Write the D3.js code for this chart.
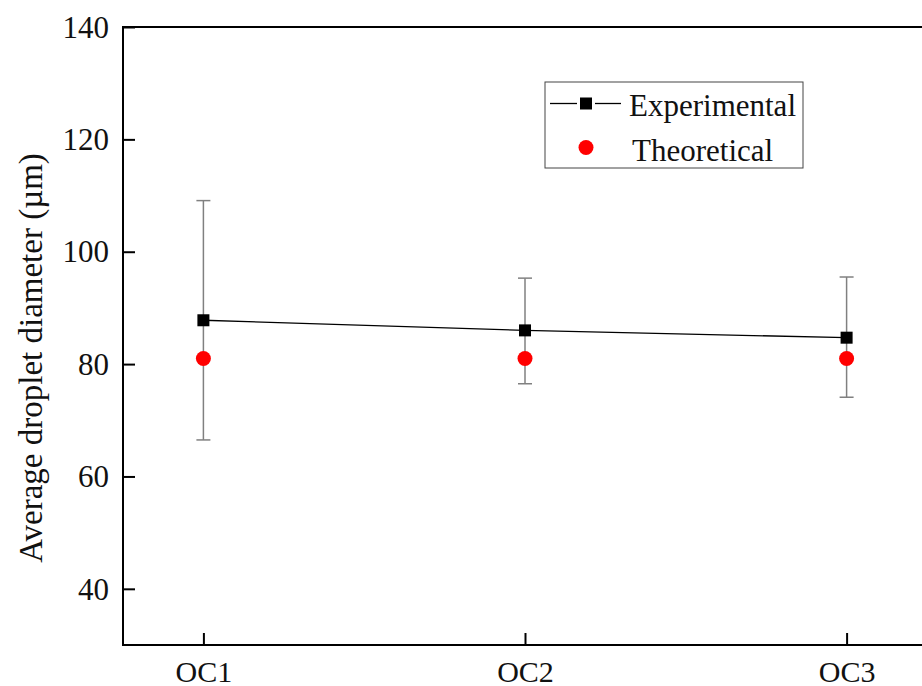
<!DOCTYPE html>
<html>
<head>
<meta charset="utf-8">
<script src="https://cdn.jsdelivr.net/npm/d3@7"></script>
<style>
  body { margin: 0; background: #fff; }
  svg { display: block; }
  text { font-family: "Liberation Serif", "Times New Roman", serif; }
</style>
</head>
<body>
<div id="chart"></div>
<script>
var categories = ["OC1", "OC2", "OC3"];
var experimental = [87.8, 86.0, 84.7];
var errUpper = [109.1, 95.3, 95.5];
var errLower = [66.5, 76.5, 74.1];
var theoretical = [81, 81, 81];
var yTicks = [40, 60, 80, 100, 120, 140];

var width = 922, height = 686;
var plotLeft = 123, plotTop = 27, plotBottom = 645;

var svg = d3.select("#chart").append("svg")
  .attr("width", width)
  .attr("height", height);

// x: categories spaced evenly, axis runs beyond the right edge
var xScale = d3.scaleLinear().domain([0.75, 3.25]).range([plotLeft, 927]);
var yScale = d3.scaleLinear().domain([30, 140]).range([plotBottom, plotTop]);

var pts = categories.map(function (c, i) {
  return {cat: c, idx: i + 1, exp: experimental[i], hi: errUpper[i], lo: errLower[i], th: theoretical[i]};
});

// error bars
var eb = svg.append("g").attr("stroke", "#808080").attr("stroke-width", 1.5);
eb.selectAll("line.v").data(pts).enter().append("line")
  .attr("x1", function (d) { return xScale(d.idx); })
  .attr("x2", function (d) { return xScale(d.idx); })
  .attr("y1", function (d) { return yScale(d.hi); })
  .attr("y2", function (d) { return yScale(d.lo); });
["hi", "lo"].forEach(function (k) {
  eb.selectAll("line.c" + k).data(pts).enter().append("line")
    .attr("x1", function (d) { return xScale(d.idx) - 7; })
    .attr("x2", function (d) { return xScale(d.idx) + 7; })
    .attr("y1", function (d) { return yScale(d[k]); })
    .attr("y2", function (d) { return yScale(d[k]); });
});

// experimental line
var line = d3.line()
  .x(function (d) { return xScale(d.idx); })
  .y(function (d) { return yScale(d.exp); });
svg.append("path").datum(pts)
  .attr("d", line)
  .attr("fill", "none")
  .attr("stroke", "#000")
  .attr("stroke-width", 1.3);

// theoretical points
svg.selectAll("circle.th").data(pts).enter().append("circle")
  .attr("cx", function (d) { return xScale(d.idx); })
  .attr("cy", function (d) { return yScale(d.th); })
  .attr("r", 7.5)
  .attr("fill", "#ff0000");

// experimental squares (white halo gives the small gap in the line)
svg.selectAll("rect.exp").data(pts).enter().append("rect")
  .attr("x", function (d) { return xScale(d.idx) - 6; })
  .attr("y", function (d) { return yScale(d.exp) - 6; })
  .attr("width", 12)
  .attr("height", 12)
  .attr("fill", "#000");

// y axis (ticks inward)
var yAxis = svg.append("g")
  .attr("transform", "translate(" + plotLeft + ",0)")
  .call(d3.axisRight(yScale).tickValues(yTicks).tickSize(12).tickSizeOuter(0).tickFormat(d3.format("d")));
yAxis.select(".domain").remove();
yAxis.selectAll(".tick line").attr("stroke", "#000").attr("stroke-width", 2);
yAxis.selectAll(".tick text")
  .attr("x", -14)
  .attr("dy", "0.33em")
  .attr("text-anchor", "end")
  .style("font-size", "31px")
  .attr("fill", "#111");

// x axis (ticks inward)
var xAxis = svg.append("g")
  .attr("transform", "translate(0," + plotBottom + ")")
  .call(d3.axisTop(xScale).tickValues([1, 2, 3]).tickSize(12).tickSizeOuter(0)
    .tickFormat(function (d) { return categories[d - 1]; }));
xAxis.select(".domain").remove();
xAxis.selectAll(".tick line").attr("stroke", "#000").attr("stroke-width", 2);
xAxis.selectAll(".tick text")
  .attr("y", 37)
  .attr("dy", 0)
  .style("font-size", "30px")
  .attr("fill", "#111");

// frame: left, bottom, top
svg.append("path")
  .attr("d", "M" + width + "," + plotTop + "H" + plotLeft + "V" + plotBottom + "H" + width)
  .attr("fill", "none")
  .attr("stroke", "#000")
  .attr("stroke-width", 2);

// y axis title
svg.append("text")
  .attr("transform", "translate(42,358) rotate(-90)")
  .attr("text-anchor", "middle")
  .style("font-size", "33px")
  .attr("fill", "#111")
  .text("Average droplet diameter (µm)");

// legend
var lg = svg.append("g");
lg.append("rect")
  .attr("x", 545).attr("y", 82)
  .attr("width", 258).attr("height", 86)
  .attr("fill", "#fff")
  .attr("stroke", "#444")
  .attr("stroke-width", 1);
lg.append("line")
  .attr("x1", 550).attr("x2", 577)
  .attr("y1", 103.5).attr("y2", 103.5)
  .attr("stroke", "#000").attr("stroke-width", 1.3);
lg.append("line")
  .attr("x1", 595).attr("x2", 621)
  .attr("y1", 103.5).attr("y2", 103.5)
  .attr("stroke", "#000").attr("stroke-width", 1.3);
lg.append("rect")
  .attr("x", 580).attr("y", 97.5)
  .attr("width", 12).attr("height", 12)
  .attr("fill", "#000");
lg.append("text")
  .attr("x", 629).attr("y", 116)
  .style("font-size", "31px")
  .attr("fill", "#111")
  .text("Experimental");
lg.append("circle")
  .attr("cx", 586).attr("cy", 147.5)
  .attr("r", 7.5)
  .attr("fill", "#ff0000");
lg.append("text")
  .attr("x", 632).attr("y", 161)
  .style("font-size", "31px")
  .attr("fill", "#111")
  .text("Theoretical");
</script>
</body>
</html>
